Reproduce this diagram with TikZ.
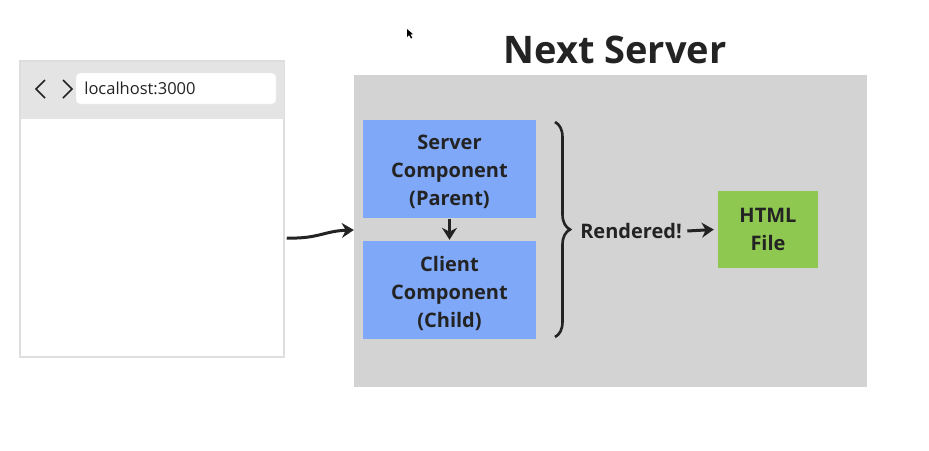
\documentclass[tikz,border=0pt]{standalone}
\usepackage{fontspec}
\setmainfont{Open Sans}
\usetikzlibrary{arrows.meta,decorations.pathreplacing}
\definecolor{ink}{HTML}{232323}
\definecolor{boxgray}{HTML}{D3D3D3}
\definecolor{bargray}{HTML}{E4E4E4}
\definecolor{compblue}{HTML}{80A8F8}
\definecolor{htmlgreen}{HTML}{8FC851}
\tikzset{
  comp/.style={rectangle, inner sep=0, minimum width=173, minimum height=98, fill=compblue},
  complabel/.style={yshift=-3pt, text=ink, align=center, font=\bfseries\fontsize{20}{28}\selectfont},
  link/.style={draw=ink, line width=3pt, -{Stealth[length=12pt,width=15pt]}},
}
\begin{document}
\begin{tikzpicture}[x=1pt, y=-1pt]
	\useasboundingbox[fill=white] (0,0) rectangle (929,450);
	% browser window
	\node (browser) at (152,209) [rectangle, inner sep=0, minimum width=264, minimum height=296, draw=black!13, line width=1.5pt, fill=white] {};
	\node (bar) at (152,90) [rectangle, inner sep=0, minimum width=263, minimum height=57, fill=bargray] {};
	\node (url) at (176,88.5) [rectangle, rounded corners=4pt, inner sep=0, minimum width=200, minimum height=31, fill=white, draw=black!8] {};
	\node (urltext) at (url.west) [anchor=west, xshift=5, text=ink, font=\fontsize{16.5}{18}\selectfont] {localhost:3000};
	\draw[ink, line width=1.6pt] (45,80) -- (36,89) -- (45,98);
	\draw[ink, line width=1.6pt] (63,80) -- (72,89) -- (63,98);
	% server
	\node (title) at (615,50) [text=ink, font=\bfseries\fontsize{38}{44}\selectfont] {Next Server};
	\node (server) at (610.5,231) [rectangle, inner sep=0, minimum width=513, minimum height=312, fill=boxgray] {};
	\node (parent) at (449.5,169) [comp, label={[complabel]center:Server\\Component\\(Parent)}] {};
	\node (child) at (449.5,290) [comp, label={[complabel]center:Client\\Component\\(Child)}] {};
	\draw[link] ([yshift=-1]parent.south) -- ([yshift=1]child.north);
	\coordinate (bracetop) at (555,122);
	\coordinate (bracebot) at (555,337);
	\draw[ink, line width=2.6pt, decorate, decoration={brace, amplitude=15pt}] (bracetop) -- (bracebot);
	\node (rendered) at (631,231) [text=ink, font=\bfseries\fontsize{20}{24}\selectfont] {Rendered!};
	\node (html) at (768,229.5) [rectangle, inner sep=0, minimum width=100, minimum height=77, fill=htmlgreen, text=ink, align=center, font=\bfseries\fontsize{20}{28}\selectfont] {HTML\\File};
	\draw[link] ([xshift=2]rendered.east) -- ([xshift=-4]html.west);
	% request
	\draw[link] ([shift={(2,29)}]browser.east) .. controls (318,239) and (324,231) .. ([yshift=1]server.west);
	% pointer
	\fill[black] (407,29) -- (407,37) -- (409,35) -- (411,38.5) -- (412.3,37.8) -- (410.4,34.4) -- (413,34.2) -- cycle;
\end{tikzpicture}
\end{document}
